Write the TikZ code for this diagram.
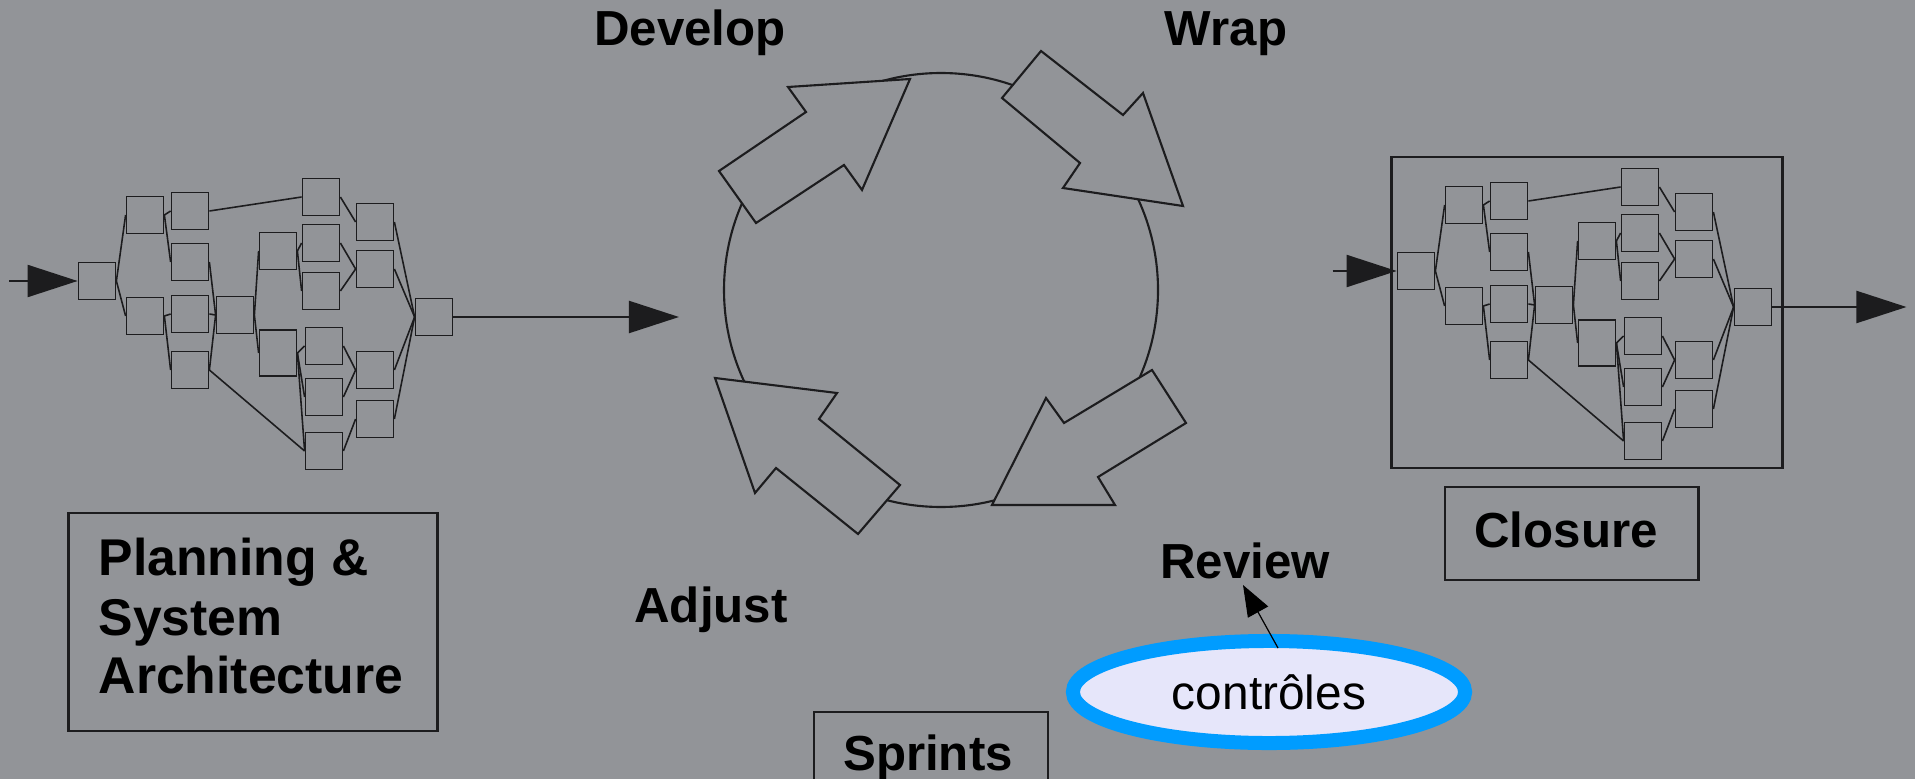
\documentclass[tikz,border=0pt]{standalone}
\usepackage{fontspec}
\setmainfont{Liberation Sans}
\usetikzlibrary{arrows.meta,shapes.geometric}
\definecolor{bg}{RGB}{146,148,152}
\definecolor{ink}{RGB}{28,28,30}
\definecolor{ctrlblue}{RGB}{0,156,255}
\definecolor{ctrlfill}{RGB}{230,230,250}
\tikzset{
  pbox/.style={draw=ink, line width=0.5pt, minimum width=0.37cm, minimum height=0.37cm, inner sep=0pt},
  plink/.style={draw=ink, line width=0.45pt},
  bigarrow/.style={draw=ink, line width=0.6pt, -{Triangle[length=0.5cm,width=0.32cm]}},
  blockarrow/.style={draw=ink, line width=0.6pt, fill=bg, line join=miter},
  lbl/.style={font=\fontsize{14}{17}\selectfont\bfseries, text=black, inner sep=0pt},
  frame/.style={draw=ink, line width=0.8pt, inner sep=0pt},
}
\newcommand\pertnet[1]{%
  \node[pbox] (#1A) at (97,281) {};
  \node[pbox] (#1B1) at (145,215) {};
  \node[pbox] (#1B2) at (145,316) {};
  \node[pbox] (#1C1) at (190,211) {};
  \node[pbox] (#1C2) at (190,262) {};
  \node[pbox] (#1C3) at (190,314) {};
  \node[pbox] (#1C4) at (190,370) {};
  \node[pbox] (#1D) at (235,315) {};
  \node[pbox] (#1E1) at (278,251) {};
  \node[pbox, minimum height=0.46cm] (#1E2) at (278,353) {};
  \node[pbox] (#1F1) at (321,197) {};
  \node[pbox] (#1F2) at (321,243) {};
  \node[pbox] (#1F3) at (321,291) {};
  \node[pbox] (#1F4) at (324,346) {};
  \node[pbox] (#1F5) at (324,397) {};
  \node[pbox] (#1F6) at (324,451) {};
  \node[pbox] (#1G1) at (375,222) {};
  \node[pbox] (#1G2) at (375,269) {};
  \node[pbox] (#1G3) at (375,370) {};
  \node[pbox] (#1G4) at (375,419) {};
  \node[pbox] (#1H) at (434,317) {};
  \foreach \a/\b in {A/B1,A/B2,B1/C1,B1/C2,B2/C3,B2/C4,C1/F1,C2/D,C3/D,C4/D,C4/F6,
      D/E1,D/E2,E1/F2,E1/F3,E2/F4,E2/F5,E2/F6,F1/G1,F2/G2,F3/G2,F4/G3,F5/G3,F6/G4,
      G1/H,G2/H,G3/H,G4/H}
    {\draw[plink] (#1\a.east) -- (#1\b.west);}
}
\begin{document}
\begin{tikzpicture}[x=0.01cm,y=-0.01cm]
\fill[bg] (0,0) rectangle (1915,779);
\useasboundingbox (0,0) rectangle (1915,779);

% ---------- left network ----------
\pertnet{L}
\coordinate (Lin) at (9,281);
\coordinate (Lout) at (679,317);
\draw[bigarrow] (Lin) -- (LA.west);
\draw[bigarrow] (LH.east) -- (Lout);

% ---------- planning box ----------
\node[frame, minimum width=3.68cm, minimum height=2.18cm] (planbox) at (253,622) {};
\node[lbl, font=\fontsize{14.7}{17}\selectfont\bfseries, anchor=base west] (plan1) at (98,575) {Planning \&};
\node[lbl, font=\fontsize{14.7}{17}\selectfont\bfseries, anchor=base west] (plan2) at (98,635) {System};
\node[lbl, font=\fontsize{14.7}{17}\selectfont\bfseries, anchor=base west] (plan3) at (98,693) {Architecture};

% ---------- sprint cycle ----------
\draw[ink, line width=0.6pt] (941,290) circle[radius=217];
% Develop arrow
\draw[blockarrow] (910,79) -- (788,87) -- (806,112) -- (719,171) -- (756,223) -- (844,165) -- (862,190) -- cycle;
% Wrap arrow
\draw[blockarrow] (1041,51) -- (1123,115) -- (1143,93) -- (1183,206) -- (1063,188) -- (1080,163) -- (1002,98) -- cycle;
% Review arrow
\draw[blockarrow] (1152,370) -- (1186,423) -- (1098,477) -- (1115,505) -- (992,505) -- (1046,398) -- (1064,423) -- cycle;
% Adjust arrow
\draw[blockarrow] (715,378) -- (837,393) -- (819,419) -- (900,485) -- (858,534) -- (776,468) -- (755,493) -- cycle;

\node[lbl, anchor=base] (develop) at (690,46) {Develop};
\node[lbl, anchor=base] (wrap) at (1226,46) {Wrap};
\node[lbl, anchor=base] (review) at (1245,578) {Review};
\node[lbl, anchor=base] (adjust) at (711,622) {Adjust};

\node[frame, minimum width=2.34cm, minimum height=0.96cm] (sprintsbox) at (931,760) {};
\node[lbl, anchor=base] (sprints) at (928,770) {Sprints};

% ---------- closure network ----------
\node[frame, minimum width=3.9cm, minimum height=3.11cm] (closurefr) at (1587,312.5) {};
\begin{scope}[shift={(1319,-10)}]
\pertnet{R}
\end{scope}
\coordinate (Rin) at ([xshift=-0.64cm]RA.west);
\coordinate (Rout) at ([xshift=1.34cm]RH.east);
\draw[bigarrow] (Rin) -- (RA.west);
\draw[bigarrow] (RH.east) -- (Rout);

\node[frame, minimum width=2.53cm, minimum height=0.93cm] (closurebox) at (1571.5,533.5) {};
\node[lbl, anchor=base] (closure) at (1566,547) {Closure};

% ---------- controls callout ----------
\node[ellipse, draw=ctrlblue, line width=0.14cm, fill=ctrlfill, minimum width=3.92cm,
      minimum height=1.02cm, inner sep=0pt, font=\fontsize{13.6}{16}\selectfont] (ctrl) at (1269,692) {contrôles};
\coordinate (ctrlstart) at (1278,648);
\coordinate (revpt) at (1243,585);
\draw[black, line width=0.35pt, -{Triangle[length=0.31cm,width=0.23cm]}] (ctrlstart) -- (revpt);
\end{tikzpicture}
\end{document}
